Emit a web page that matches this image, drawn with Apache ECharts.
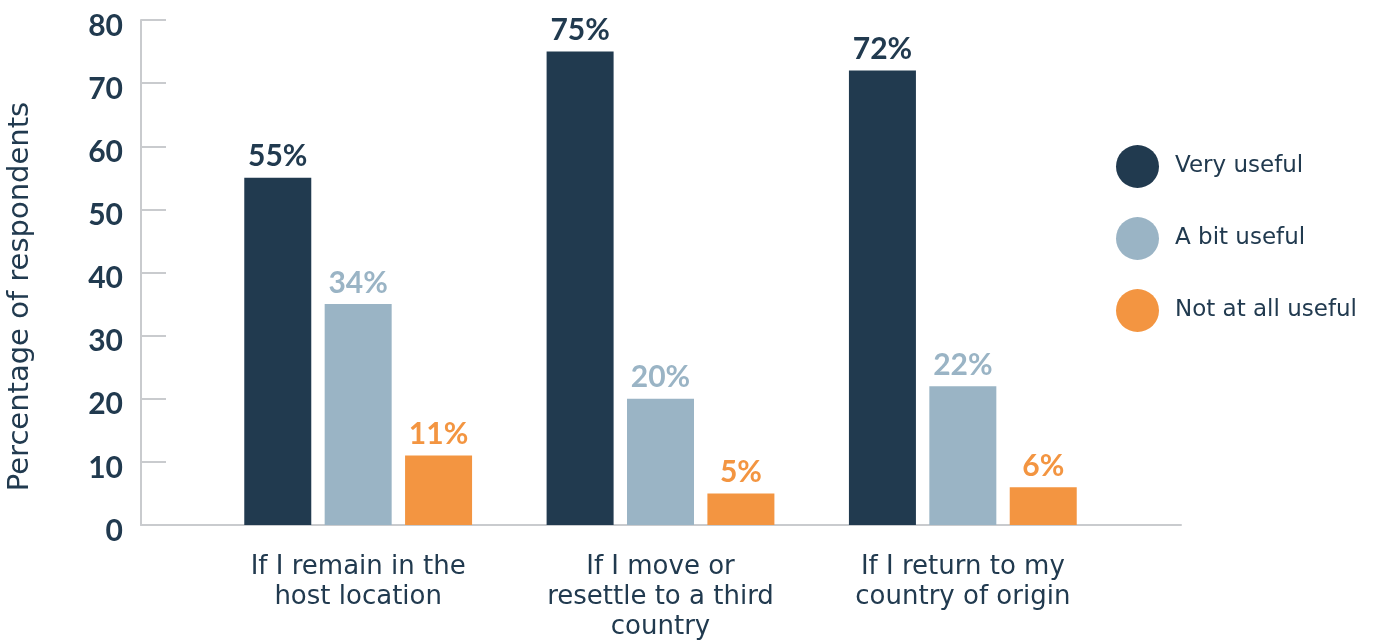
<!DOCTYPE html>
<html>
<head>
<meta charset="utf-8">
<script src="https://cdn.jsdelivr.net/npm/echarts@6/dist/echarts.min.js"></script>
<style>
html,body{margin:0;padding:0;background:#fff;}
#main{width:1379px;height:642px;}
</style>
</head>
<body>
<div id="main"></div>
<script>
const categories = ["If I remain in the\nhost location", "If I move or\nresettle to a third\ncountry", "If I return to my\ncountry of origin"];
const seriesNames = ["Very useful", "A bit useful", "Not at all useful"];
const veryUseful = [55, 75, 72];
const aBitUseful = [35, 20, 22];
const notAtAllUseful = [11, 5, 6];
const veryUsefulLabels = [55, 75, 72];
const aBitUsefulLabels = [34, 20, 22];
const notAtAllUsefulLabels = [11, 5, 6];
const yTicks = [0, 10, 20, 30, 40, 50, 60, 70, 80];

const colors = ["#213a4f", "#9ab4c5", "#f39541"];
const textColor = "#213a4f";
const axisColor = "#c9cbce";

const chart = echarts.init(document.getElementById('main'));

function mkSeries(name, data, labels, color) {
  return {
    name: name,
    type: 'bar',
    xAxisIndex: 1,
    yAxisIndex: 1,
    data: data,
    barWidth: 67,
    barGap: '20%',
    itemStyle: { color: color },
    label: {
      show: true,
      position: 'top',
      distance: 6,
      color: color,
      fontFamily: 'Lato',
      fontWeight: 'bold',
      fontSize: 30,
      formatter: p => labels[p.dataIndex] + '%'
    }
  };
}

chart.setOption({
  animation: false,
  color: colors,
  legend: {
    orient: 'vertical',
    left: 1111,
    top: 140,
    icon: 'circle',
    itemWidth: 43,
    itemHeight: 43,
    itemGap: 29,
    data: seriesNames,
    textStyle: { color: textColor, fontFamily: 'DejaVu Sans', fontSize: 23, padding: [0, 0, 0, 11] }
  },
  grid: [
    { left: 141, right: 198, top: 20, bottom: 117, outerBoundsMode: 'none', containLabel: false },
    { left: 207, right: 265, top: 20, bottom: 117, outerBoundsMode: 'none', containLabel: false }
  ],
  xAxis: [
    {
      gridIndex: 0, type: 'value', min: 0, max: 1,
      axisLine: { show: true, onZero: false, lineStyle: { color: axisColor, width: 2 } },
      axisTick: { show: false }, axisLabel: { show: false }, splitLine: { show: false }
    },
    {
      gridIndex: 1, type: 'category', data: categories,
      axisLine: { show: false }, axisTick: { show: false }, splitLine: { show: false },
      axisLabel: {
        color: textColor, fontFamily: 'DejaVu Sans', fontSize: 26, lineHeight: 30,
        margin: 27, interval: 0
      }
    }
  ],
  yAxis: [
    {
      gridIndex: 0, type: 'value', min: yTicks[0], max: yTicks[yTicks.length - 1], interval: 10,
      name: 'Percentage of respondents', nameLocation: 'middle', nameGap: 106, nameRotate: 90,
      nameTextStyle: { color: textColor, fontFamily: 'DejaVu Sans', fontSize: 29, padding: [0, 48, 0, 0] },
      axisLine: { show: true, lineStyle: { color: axisColor, width: 2 } },
      axisTick: { show: true, inside: true, length: 25, lineStyle: { color: axisColor, width: 2 } },
      splitLine: { show: false },
      axisLabel: { color: textColor, fontFamily: 'Lato', fontWeight: 'bold', fontSize: 30, margin: 18, verticalAlign: 'top', lineHeight: 12 }
    },
    {
      gridIndex: 1, type: 'value', min: yTicks[0], max: yTicks[yTicks.length - 1], interval: 10,
      show: false, splitLine: { show: false }
    }
  ],
  series: [
    mkSeries(seriesNames[0], veryUseful, veryUsefulLabels, colors[0]),
    mkSeries(seriesNames[1], aBitUseful, aBitUsefulLabels, colors[1]),
    mkSeries(seriesNames[2], notAtAllUseful, notAtAllUsefulLabels, colors[2])
  ]
});
</script>
</body>
</html>
